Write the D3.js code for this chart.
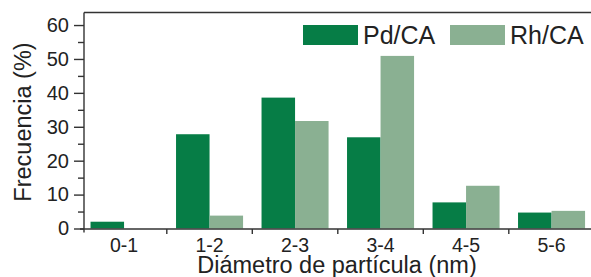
<!DOCTYPE html>
<html lang="en">
<head>
    <meta charset="UTF-8">
    <script src="https://cdnjs.cloudflare.com/ajax/libs/d3/7.8.5/d3.min.js"></script>
    <title>Frecuencia vs diámetro de partícula</title>
    <style>
        body { margin: 0; background: #fff; }
        svg { display: block; font-family: "Liberation Sans", Arial, sans-serif; }
    </style>
</head>
<body>
    <svg width="591" height="277"></svg>
    <script>
        var categories = ["0-1", "1-2", "2-3", "3-4", "4-5", "5-6"];
        var series = ["Pd/CA", "Rh/CA"];
        var pdValues = [2.0, 27.8, 38.6, 26.9, 7.7, 4.7];
        var rhValues = [0, 3.8, 31.7, 50.9, 12.6, 5.2];
        var yTicks = [0, 10, 20, 30, 40, 50, 60];
        var yMinorTicks = [5, 15, 25, 35, 45, 55];

        var colors = { "Pd/CA": "#067d46", "Rh/CA": "#8ab092" };
        var ink = "#333333";

        var svg = d3.select("svg");

        var x = d3.scaleBand()
            .domain(categories)
            .range([81.3, 594.3])
            .paddingInner(0.216)
            .paddingOuter(0.108);

        var xSub = d3.scaleBand()
            .domain(series)
            .range([0, x.bandwidth()]);

        var y = d3.scaleLinear()
            .domain([0, 63.7])
            .range([228.5, 12.5]);

        var table = categories.map((c, i) => ({ cat: c, "Pd/CA": pdValues[i], "Rh/CA": rhValues[i] }));

        // bars
        svg.append("g")
            .selectAll("g")
            .data(table)
            .enter()
            .append("g")
            .attr("transform", d => "translate(" + x(d.cat) + ",0)")
            .selectAll("rect")
            .data(d => series.map(s => ({ key: s, value: d[s] })))
            .enter()
            .append("rect")
            .attr("x", d => xSub(d.key))
            .attr("width", xSub.bandwidth())
            .attr("y", d => y(d.value))
            .attr("height", d => y(0) - y(d.value))
            .style("fill", d => colors[d.key]);

        // frame: top line
        svg.append("line")
            .attr("x1", 84).attr("x2", 591)
            .attr("y1", 12.5).attr("y2", 12.5)
            .style("stroke", ink).style("stroke-width", 1.4);

        // y axis
        var yAxis = svg.append("g")
            .attr("transform", "translate(84,0)")
            .call(d3.axisLeft(y).tickValues(yTicks).tickSize(10).tickPadding(5));
        svg.append("g")
            .attr("transform", "translate(84,0)")
            .call(d3.axisLeft(y).tickValues(yMinorTicks).tickSize(6).tickFormat(""))
            .select(".domain").remove();
        yAxis.select(".domain")
            .attr("d", "M0," + y.range()[1] + "V" + (y(0) + 4));

        // x axis with ticks on category boundaries
        var step = x.step();
        var boundaries = categories.slice(1).map(c => x(c) - step * x.paddingInner() / 2);
        var xAxis = svg.append("g").attr("transform", "translate(0," + (y(0) + 0.5) + ")");
        xAxis.append("line")
            .attr("x1", 80).attr("x2", 591)
            .style("stroke", ink).style("stroke-width", 1.4);
        xAxis.selectAll("line.tick")
            .data(boundaries)
            .enter()
            .append("line")
            .attr("class", "tick")
            .attr("x1", d => d).attr("x2", d => d)
            .attr("y1", 0).attr("y2", 5)
            .style("stroke", ink).style("stroke-width", 1.4);
        xAxis.selectAll("text")
            .data(categories)
            .enter()
            .append("text")
            .attr("x", d => x(d) + x.bandwidth() / 2)
            .attr("y", 23)
            .attr("text-anchor", "middle")
            .style("font-size", "19.5px")
            .style("fill", "#222")
            .text(d => d);

        svg.selectAll(".tick line").style("stroke", ink).style("stroke-width", 1.4);
        yAxis.select(".domain").style("stroke", ink).style("stroke-width", 1.4);
        yAxis.selectAll("text")
            .style("font-size", "20px")
            .style("fill", "#222")
            .style("font-family", "Liberation Sans, Arial, sans-serif");

        // axis titles
        svg.append("text")
            .attr("x", 337).attr("y", 273)
            .attr("text-anchor", "middle")
            .style("font-size", "23.5px")
            .style("fill", "#222")
            .text("Diámetro de partícula (nm)");
        svg.append("text")
            .attr("transform", "translate(31,122) rotate(-90)")
            .attr("text-anchor", "middle")
            .style("font-size", "23.5px")
            .style("fill", "#222")
            .text("Frecuencia (%)");

        // legend
        var legendX = [303, 450];
        var legend = svg.selectAll("g.legend")
            .data(series)
            .enter()
            .append("g")
            .attr("class", "legend")
            .attr("transform", (d, i) => "translate(" + legendX[i] + ",25)");
        legend.append("rect")
            .attr("width", 55).attr("height", 20)
            .style("fill", d => colors[d]);
        legend.append("text")
            .attr("x", 60).attr("y", 19)
            .style("font-size", "25px")
            .style("fill", "#222")
            .text(d => d);
    </script>
</body>
</html>
